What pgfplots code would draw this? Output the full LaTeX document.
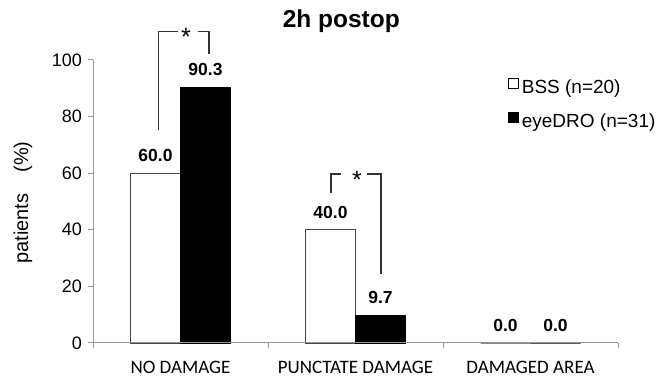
\documentclass[border=0pt]{standalone}
\usepackage{pgfplots}
\pgfplotsset{compat=1.18}
\usepackage{fontspec}
\setmainfont{Liberation Sans}
\newfontfamily\carlito{Carlito}
\definecolor{axisgray}{RGB}{150,150,150}
\definecolor{edgegray}{RGB}{70,70,70}
\begin{document}
\begin{tikzpicture}
\useasboundingbox (0,0) rectangle (660bp,377bp);
\begin{axis}[
  at={(93bp,34bp)}, anchor=south west,
  scale only axis, width=525bp, height=283bp,
  xmin=-0.5, xmax=2.5, ymin=0, ymax=100,
  clip=false, axis on top,
  axis x line*=bottom, axis y line*=left,
  axis line style={draw=axisgray, line width=1bp, -},
  /pgf/number format/assume math mode=true,
  tick align=outside, major tick length=5bp,
  tick style={draw=axisgray, line width=1bp},
  ytick={0,20,...,100},
  yticklabel style={font=\fontsize{18bp}{21bp}\selectfont, anchor=east, inner sep=0pt, xshift=-6bp},
  xtick={0,1,2},
  xticklabels={NO DAMAGE, PUNCTATE DAMAGE, DAMAGED AREA},
  xtick style={draw=none},
  xticklabel style={font=\carlito\fontsize{19bp}{22bp}\selectfont, anchor=north, inner sep=0pt, yshift=-13bp},
  extra x ticks={-0.5,0.5,1.5,2.5},
  extra x tick labels={},
  extra x tick style={xtick style={draw=axisgray, line width=1bp}},
  ylabel={patients\hspace{1.05em}(\%)},
  ylabel style={font=\fontsize{20bp}{24bp}\selectfont, at={(axis description cs:-0.1333,0.4965)}, anchor=center},
  title={2h postop},
  title style={font=\bfseries\fontsize{24.5bp}{30bp}\selectfont, at={(axis description cs:0.473,1.095)}, anchor=base},
  ybar, bar width=50bp,
  nodes near coords,
  point meta=y,
  nodes near coords style={font=\bfseries\fontsize{17.5bp}{20bp}\selectfont, inner sep=0pt, anchor=south, yshift=11bp,
    /pgf/number format/.cd, fixed, fixed zerofill, precision=1},
  legend image code/.code={\draw[#1, draw=black, line width=0.9bp] (0bp,-1bp) rectangle (10bp,9bp);},
  legend style={at={(rel axis cs:0.79,0.936)}, anchor=north west, draw=none, fill=none,
    font=\fontsize{19bp}{22bp}\selectfont, inner sep=0pt, row sep=17bp, column sep=3bp,
    nodes={inner sep=0pt}},
  legend cell align=left,
]
\addplot[bar shift=-25bp, fill=white, draw=edgegray, line width=0.9bp] coordinates {(0,60.0) (1,40.0) (2,0.0)};
\addplot[bar shift=25bp, fill=black, draw=black, line width=0.9bp] coordinates {(0,90.3) (1,9.7) (2,0.0)};
\legend{BSS (n=20), eyeDRO (n=31)}
% significance brackets
\draw[line width=1.1bp, black!80] (axis cs:-0.1257,75.3) -- (axis cs:-0.1257,110.2) -- (axis cs:-0.0143,110.2);
\draw[line width=1.1bp, black!80] (axis cs:0.1,110.2) -- (axis cs:0.1629,110.2) -- (axis cs:0.1629,102.1);
\node[font=\fontsize{25bp}{30bp}\selectfont, anchor=base, inner sep=0pt, yshift=-14.5bp] at (axis cs:0.0314,110.2) {*};
\draw[line width=1.1bp, black!80] (axis cs:0.86,53) -- (axis cs:0.86,59.7) -- (axis cs:0.917,59.7);
\draw[line width=1.1bp, black!80] (axis cs:1.0657,59.7) -- (axis cs:1.1457,59.7) -- (axis cs:1.1457,24.4);
\node[font=\fontsize{25bp}{30bp}\selectfont, anchor=base, inner sep=0pt, yshift=-14.5bp] at (axis cs:1.0086,59.7) {*};
\end{axis}
\end{tikzpicture}
\end{document}
